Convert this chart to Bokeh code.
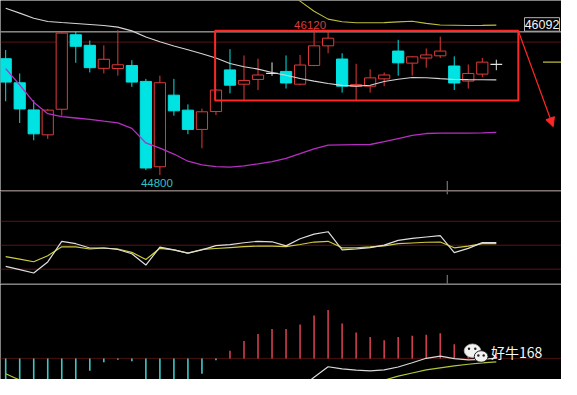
import math
from bokeh.plotting import figure
from bokeh.layouts import column
from bokeh.models import Range1d, Span, Arrow, NormalHead, ColumnDataSource
from bokeh.embed import file_html
from bokeh.resources import INLINE
from bokeh.core.properties import value

NAN = float("nan")

# ---------------- price candles (36 bars) ----------------
opens  = [45850, 45633, 45388, 45163, 45394, 46066, 45971, 45763, 45761, 45789,
          45645, 44875, 45521, 45386, 45212, 45373, 45749, 45620, 45663, 45717,
          45735, 45620, 45789, 45966, 45847, 45602, 45602, 45668, 45919, 45810,
          45856, 45876, 45784, 45648, 45711, 45798]
highs  = [45928, 45717, 45475, 45397, 46090, 46096, 46014, 45971, 46110, 45836,
          45668, 45697, 45668, 45438, 45400, 45574, 45936, 45879, 45850, 45817,
          45879, 45884, 46120, 46096, 45899, 45804, 45755, 45726, 46020, 45873,
          45942, 46049, 45871, 45798, 45856, 45841]
lows   = [45466, 45270, 45114, 45126, 45336, 45813, 45726, 45717, 45697, 45596,
          44845, 44800, 45336, 45169, 45042, 45342, 45538, 45472, 45567, 45696,
          45581, 45609, 45782, 45899, 45544, 45475, 45544, 45602, 45697, 45697,
          45769, 45856, 45567, 45581, 45683, 45746]
closes = [45639, 45397, 45172, 45386, 46081, 45962, 45769, 45845, 45795, 45639,
          44864, 45633, 45380, 45212, 45371, 45567, 45611, 45654, 45703, 45717,
          45631, 45793, 45966, 46035, 45602, 45616, 45677, 45703, 45813, 45867,
          45884, 45919, 45631, 45717, 45819, 45798]

# moving averages
ma_long = [46306, 46261, 46215, 46186, 46176, 46168, 46159, 46149, 46135, 46101,
           46046, 46003, 45964, 45931, 45895, 45856, 45806, 45778, 45756, 45726,
           45700, 45671, 45648, 45626, 45609, 45603, 45611, 45644, 45665, 45681,
           45678, 45670, 45663, 45661, 45660, 45659]
ma_low  = [45761, 45613, 45458, 45354, 45328, 45315, 45302, 45286, 45271, 45221,
           45090, 45044, 44990, 44925, 44893, 44877, 44871, 44883, 44901, 44921,
           44951, 44993, 45036, 45071, 45073, 45075, 45076, 45102, 45130, 45158,
           45175, 45178, 45178, 45178, 45181, 45186]
ma_up   = [NAN] * 20 + [46453, 46369, 46278, 46207, 46183, 46174, 46174, 46175,
                        46182, 46188, 46169, 46154, 46152, 46150, 46151, 46153]

last_price = 46092
ref_level = 46000
right_marker = 45819

# ---------------- KDJ ----------------
kdj_k = [23.6, 19.4, 15.2, 29.1, 54.9, 51.9, 46.5, 46.5, 44.7, 39.3,
         25.2, 47.7, 44.1, 40.1, 44.1, 49.5, 50.7, 53.1, 54.9, 54.3,
         49.2, 58.1, 63.9, 66.9, 44.1, 45.3, 47.1, 50.1, 56.1, 58.5,
         60.3, 62.1, 40.8, 46.1, 53.3, 53.3]
kdj_d = [35.7, 32.7, 29.3, 36.9, 48.0, 48.0, 45.3, 46.5, 45.3, 41.1,
         32.1, 46.1, 44.1, 40.1, 44.7, 45.9, 47.1, 48.3, 48.9, 48.9,
         48.3, 50.9, 54.0, 54.9, 46.8, 46.8, 47.9, 49.2, 51.9, 52.8,
         53.7, 54.0, 46.8, 48.9, 52.1, 52.1]
kdj_levels = [20, 50, 80]

# ---------------- MACD ----------------
macd_hist = [-24, -24, -24, -24, -24, -24, -13, -4, -1.5, -3,
             -24, -24, -24, -24, -16, -2, 8, 18, 25.3, 30.7,
             30.7, 35.3, 44.7, 50.3, 36.3, 27, 22.3, 19, 22.3, 23.7,
             24.7, 26.3, 14.7, 8, 6, 5]
macd_dif = [NAN] * 21 + [-31, -19.7, -8.7, -11, -12.2, -13, -11.9, -9, -4.5,
                         0.1, 2.3, -0.2, -1.5, -1, 0.3]
macd_dea = [-16, -22.6] + [NAN] * 25 + [-22.7, -18.5, -15.2, -12, -9.8, -7.9,
                                        -6.1, -4.6, -3.7]

# ---------------- styling ----------------
UP = "#e03a3a"
DOWN = "#00e3e3"
FLAT = "#e4e4e4"
RED_BOX = "#ff2626"
W = 561

n = len(opens)
idx = list(range(n))
xr = Range1d(-0.37, 39.65)


def mk(h, y0, y1):
    f = figure(width=W, height=h, x_range=xr, y_range=Range1d(y0, y1),
               output_backend="svg", toolbar_location=None, tools="",
               x_axis_location=None, y_axis_location=None, min_border=0,
               background_fill_color="black", border_fill_color="black",
               outline_line_color=None)
    f.grid.visible = False
    return f


# ================= price panel =================
A = mk(190, 44661, 46375)
A.add_layout(Span(location=last_price, dimension="width", line_color="#cfcfcf",
                  line_width=1, level="underlay"))
A.add_layout(Span(location=ref_level, dimension="width", line_color="#5a1212",
                  line_width=1, level="underlay"))

col, fill, top, bot = [], [], [], []
for o, c in zip(opens, closes):
    if c > o:
        col.append(UP); fill.append("black")
    elif c < o:
        col.append(DOWN); fill.append(DOWN)
    else:
        col.append(FLAT); fill.append(FLAT)
    top.append(max(o, c)); bot.append(min(o, c))

src = ColumnDataSource(dict(x=idx, h=highs, l=lows, top=top, bot=bot, col=col, fill=fill))
A.segment(x0="x", y0="h", x1="x", y1="l", line_color="col", line_width=1, source=src)
body_i = [i for i in idx if opens[i] != closes[i]]
bsrc = ColumnDataSource(dict(x=[idx[i] for i in body_i], top=[top[i] for i in body_i],
                             bot=[bot[i] for i in body_i], col=[col[i] for i in body_i],
                             fill=[fill[i] for i in body_i]))
A.vbar(x="x", width=0.8, top="top", bottom="bot", fill_color="fill", line_color="col",
       line_width=1, source=bsrc)
doji_i = [i for i in idx if opens[i] == closes[i]]
A.segment(x0=[idx[i] - 0.42 for i in doji_i], y0=[opens[i] for i in doji_i],
          x1=[idx[i] + 0.42 for i in doji_i], y1=[opens[i] for i in doji_i],
          line_color=FLAT, line_width=1.2)

A.line(idx, ma_long, line_color="#d4d4d4", line_width=1.1)
A.line(idx, ma_low, line_color="#b52fc0", line_width=1.3)
A.line(idx, ma_up, line_color="#bdbd3c", line_width=1.1)
A.segment(x0=[38.33], y0=[right_marker], x1=[39.7], y1=[right_marker],
          line_color="#bdbd3c", line_width=1.2)

# consolidation box and arrow
A.quad(left=[14.94], right=[36.57], top=[46101], bottom=[45472],
       fill_color=None, line_color=RED_BOX, line_width=2)
A.add_layout(Arrow(end=NormalHead(size=9, fill_color=RED_BOX, line_color=RED_BOX),
                   x_start=36.57, y_start=46101, x_end=39.06, y_end=45237,
                   line_color=RED_BOX, line_width=1.3))

# separator tick
A.segment(x0=[31.5], y0=[44747], x1=[31.5], y1=[44661], line_color="#8a8a8a", line_width=1)

# max / min labels
imax = highs.index(max(highs))
imin = lows.index(min(lows))
A.text(x=[imax], y=[highs[imax]], text=[str(highs[imax])], text_color="#d83c3c",
       text_font=value("Liberation Sans"), text_font_size="11.5px",
       text_align="center", text_baseline="alphabetic", x_offset=-4, y_offset=-4)
A.text(x=[imin], y=[lows[imin]], text=[str(lows[imin])], text_color="#2fc4c4",
       text_font=value("Liberation Sans"), text_font_size="11.5px",
       text_align="center", text_baseline="top", x_offset=-3, y_offset=4)

# last price box
A.quad(left=[37.01], right=[39.51], top=[46220], bottom=[46098],
       fill_color="black", line_color="#b4b4b4", line_width=1)
A.text(x=[38.26], y=[46159], text=[str(last_price)], text_color="#f4f4f4",
       text_font=value("Liberation Sans"), text_font_size="12.5px",
       text_align="center", text_baseline="middle")

# ================= KDJ panel =================
B = mk(94, 0.84, 118.5)
for lv in kdj_levels:
    B.add_layout(Span(location=lv, dimension="width", line_color="#5c1414",
                      line_width=1, level="underlay"))
B.add_layout(Span(location=117.3, dimension="width", line_color="#8e1e1e",
                  line_width=1.2, level="underlay"))
B.add_layout(Span(location=2.0, dimension="width", line_color="#9a2222",
                  line_width=1.3, level="underlay"))
B.segment(x0=[31.5, 31.5], y0=[117.3, 12.8], x1=[31.5, 31.5], y1=[113.7, 2.0],
          line_color="#8a8a8a", line_width=1)
B.line(idx, kdj_d, line_color="#cccc3e", line_width=1.2)
B.line(idx, kdj_k, line_color="#dedede", line_width=1.2)

# ================= MACD panel =================
C = mk(95, -22, 77)
C.add_layout(Span(location=0, dimension="width", line_color="#4a1010",
                  line_width=1, level="underlay"))
hcol = ["#cf3f4e" if v > 0 else "#3cc9c9" for v in macd_hist]
C.segment(x0=idx, y0=[0] * n, x1=idx, y1=macd_hist, line_color=hcol, line_width=1.6)
C.line(idx, macd_dea, line_color="#b4c43a", line_width=1.2)
C.line(idx, macd_dif, line_color="#d8d8d8", line_width=1.2)

# watermark
C.ellipse(x=[33.30], y=[8], width=[1.18], height=[14], fill_color="#f2f2f2",
          line_color="#bbbbbb", line_width=0.8)
C.ellipse(x=[33.92], y=[2], width=[0.98], height=[12], fill_color="#f2f2f2",
          line_color="#222222", line_width=1)
C.scatter(x=[33.05, 33.5, 33.72, 34.1], y=[10, 10, 3, 3], size=2.4,
          fill_color="#222222", line_color=None)
C.text(x=[34.62], y=[7], text=["好牛168"], text_color="#f6f6f6",
       text_font=value("Noto Sans CJK SC"), text_font_size="14px",
       text_align="left", text_baseline="middle")

layout = column(A, B, C, spacing=0)
open("out.html", "w").write(file_html(layout, INLINE))
